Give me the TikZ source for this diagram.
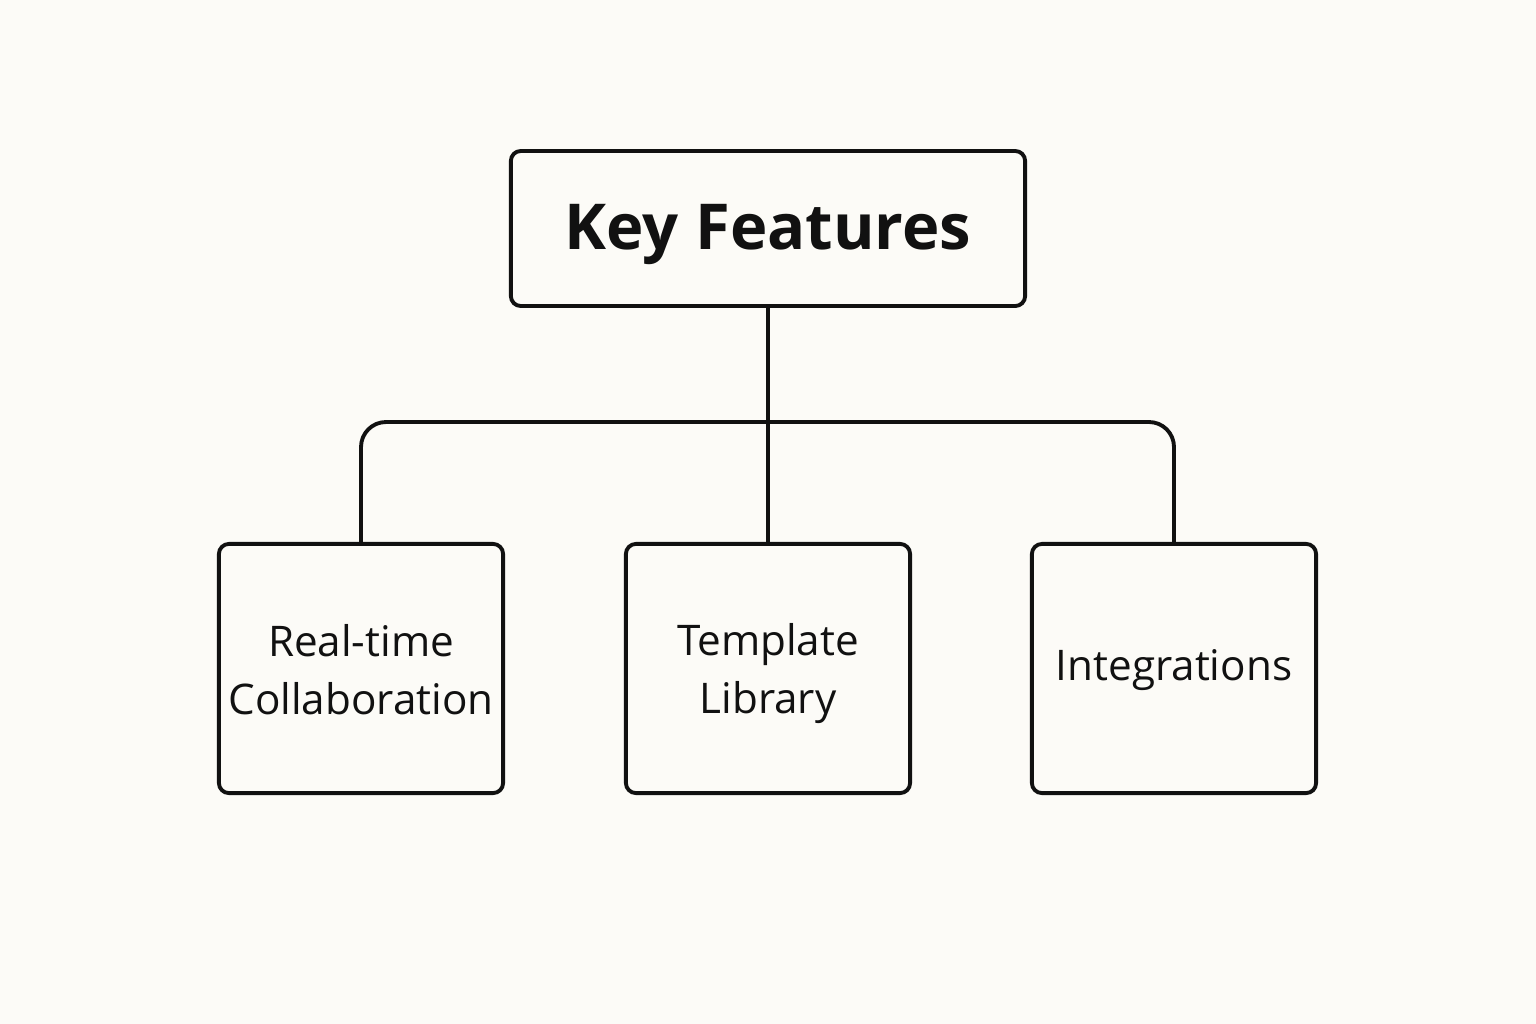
\documentclass[tikz,border=0pt]{standalone}
\usepackage{fontspec}
\setmainfont{Open Sans}
\usepackage{tikz}
\definecolor{paper}{HTML}{FCFBF7}
\definecolor{ink}{HTML}{111111}

\begin{document}
\begin{tikzpicture}[x=0.01cm,y=-0.01cm,line width=1.1pt,draw=ink,
    featbox/.style={draw=ink,rounded corners=0.1cm,fill=paper,align=center,
      text=ink,inner sep=0pt,minimum width=2.84cm,minimum height=2.49cm,
      font=\fontsize{12}{16.5}\selectfont}]
  \fill[paper] (0,0) rectangle (1536,1024);
  \useasboundingbox (0,0) rectangle (1536,1024);
    \node[featbox,minimum width=5.14cm,minimum height=1.55cm,
      font=\fontsize{18}{22}\selectfont\bfseries] (top) at (768,228.5) {};
    \node[text=ink,font=\fontsize{18}{22}\selectfont\bfseries] (toptext) at (768,235) {Key Features};
    \foreach \name/\pos/\label in
{{collab/(361,668.5)/Real-time\\Collaboration},{templ/(768,668.5)/Template\\Library},{integ/(1174,668.5)/Integrations}}
      \node[featbox] (\name) at \pos {};
    \foreach \name/\pos/\label in
{{collab/(361,670)/Real-time\\Collaboration},{templ/(768,674)/Template\\Library},{integ/(1174,670)/Integrations}}
      \node[align=center,text=ink,font=\fontsize{12}{16.5}\selectfont] (\name text) at \pos {\label};
    \coordinate (hub) at (768,422);
    \draw (top) -- (templ);
    \draw[rounded corners=0.25cm] (collab) |- (hub) -| (integ);
  \end{tikzpicture}
\end{document}
